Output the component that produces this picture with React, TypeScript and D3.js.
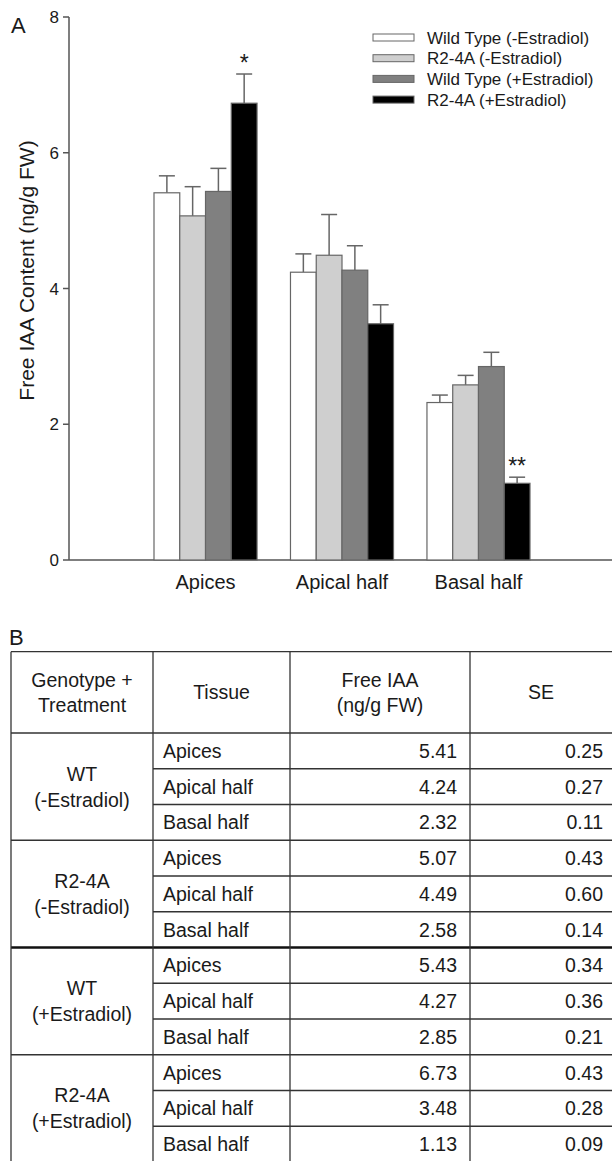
import React from "react";
import * as d3 from "d3";

const categories = ["Apices", "Apical half", "Basal half"];
const seriesNames = [
  "Wild Type (-Estradiol)",
  "R2-4A (-Estradiol)",
  "Wild Type (+Estradiol)",
  "R2-4A (+Estradiol)",
];
const seriesColors = ["#ffffff", "#cfcfcf", "#808080", "#000000"];
const wtMinus = [5.41, 4.24, 2.32];
const wtMinusSE = [0.25, 0.27, 0.11];
const r24Minus = [5.07, 4.49, 2.58];
const r24MinusSE = [0.43, 0.6, 0.14];
const wtPlus = [5.43, 4.27, 2.85];
const wtPlusSE = [0.34, 0.36, 0.21];
const r24Plus = [6.73, 3.48, 1.13];
const r24PlusSE = [0.43, 0.28, 0.09];
const significance = [
  { series: 3, cat: 0, label: "*" },
  { series: 3, cat: 2, label: "**" },
];
const yTicks = [0, 2, 4, 6, 8];

const genotypeLabels = [
  ["WT", "(-Estradiol)"],
  ["R2-4A", "(-Estradiol)"],
  ["WT", "(+Estradiol)"],
  ["R2-4A", "(+Estradiol)"],
];
const headerLabels = [["Genotype +", "Treatment"], ["Tissue"], ["Free IAA", "(ng/g FW)"], ["SE"]];

const FONT = "'Liberation Sans', Arial, Helvetica, sans-serif";
const TXT = "#1a1a1a";

export default function App() {
  const values = [wtMinus, r24Minus, wtPlus, r24Plus];
  const errors = [wtMinusSE, r24MinusSE, wtPlusSE, r24PlusSE];

  const y = d3.scaleLinear().domain([0, 8]).range([560, 17]);
  const x0 = d3.scaleBand<string>().domain(categories).range([154, 530]).paddingInner(0.245).paddingOuter(0);
  const x1 = d3.scaleBand<number>().domain(d3.range(4)).range([0, x0.bandwidth()]).padding(0);
  const axisX = 69;
  const axisColor = "#555";

  // table geometry
  const colX = [11, 153, 290, 470, 612];
  const tTop = 651.7;
  const headerBottom = 733;
  const rowH = 35.75;
  const tissueRows = d3.range(12);
  const rowY = d3.scaleLinear().domain([0, 1]).range([headerBottom, headerBottom + rowH]);
  const TF = 19.5;

  return (
    <svg width={612} height={1161} style={{ position: "absolute", left: 0, top: 0, background: "#fff" }} fontFamily={FONT}>
      <rect width={612} height={1161} fill="#fff" />
      {/* Panel A */}
      <text x={11} y={33} fontSize={22} fill={TXT}>A</text>
      {/* y axis */}
      <line x1={axisX} x2={axisX} y1={y(8)} y2={y(0)} stroke={axisColor} strokeWidth={1.5} />
      <line x1={axisX} x2={612} y1={y(0)} y2={y(0)} stroke={axisColor} strokeWidth={1.5} />
      {yTicks.map((t) => (
        <g key={t}>
          <line x1={axisX - 6} x2={axisX} y1={y(t)} y2={y(t)} stroke={axisColor} strokeWidth={1.5} />
          <text x={axisX - 10} y={y(t)} dy="0.36em" textAnchor="end" fontSize={17} fill={TXT}>
            {t}
          </text>
        </g>
      ))}
      <text
        transform={`translate(34, ${y(4) - 18}) rotate(-90)`}
        textAnchor="middle"
        fontSize={21}
        fill={TXT}
      >
        Free IAA Content (ng/g FW)
      </text>
      {/* bars */}
      {categories.map((c, ci) => (
        <g key={c}>
          {values.map((vals, si) => {
            const bx = (x0(c) as number) + (x1(si) as number);
            const bw = x1.bandwidth();
            const top = y(vals[ci]);
            const errTop = y(vals[ci] + errors[si][ci]);
            const cx = bx + bw / 2;
            return (
              <g key={si}>
                <line x1={cx} x2={cx} y1={top} y2={errTop} stroke="#666" strokeWidth={1.5} />
                <line x1={cx - 8} x2={cx + 8} y1={errTop} y2={errTop} stroke="#666" strokeWidth={1.5} />
                <rect x={bx} y={top} width={bw} height={y(0) - top} fill={seriesColors[si]} stroke="#666" strokeWidth={1.2} />
              </g>
            );
          })}
          <text x={(x0(c) as number) + x0.bandwidth() / 2} y={589} textAnchor="middle" fontSize={20} fill={TXT}>
            {c}
          </text>
        </g>
      ))}
      {significance.map((s, i) => {
        const c = categories[s.cat];
        const cx = (x0(c) as number) + (x1(s.series) as number) + x1.bandwidth() / 2;
        const v = values[s.series][s.cat] + errors[s.series][s.cat];
        return (
          <text key={i} x={cx} y={y(v) - 3} textAnchor="middle" fontSize={23} fill={TXT}>
            {s.label}
          </text>
        );
      })}
      {/* legend */}
      {seriesNames.map((n, i) => (
        <g key={n}>
          <rect x={373} y={34 + i * 20.7} width={41} height={7} fill={seriesColors[i]} stroke="#666" strokeWidth={1} />
          <text x={427} y={37.5 + i * 20.7} dy="0.36em" fontSize={17} fill={TXT}>
            {n}
          </text>
        </g>
      ))}

      {/* Panel B */}
      <text x={9} y={645} fontSize={22} fill={TXT}>B</text>
      <line x1={colX[0]} x2={612} y1={tTop} y2={tTop} stroke="#333" strokeWidth={1.3} />
      <line x1={colX[0]} x2={612} y1={headerBottom} y2={headerBottom} stroke="#333" strokeWidth={1.3} />
      {tissueRows.map((r) => {
        if (r === 0) return null;
        const isGroup = r % 3 === 0;
        return (
          <line
            key={r}
            x1={isGroup ? colX[0] : colX[1]}
            x2={612}
            y1={rowY(r)}
            y2={rowY(r)}
            stroke={r === 6 ? "#111" : "#333"}
            strokeWidth={r === 6 ? 2.6 : 1.3}
          />
        );
      })}
      {colX.slice(0, 4).map((cx, i) => (
        <line key={i} x1={cx} x2={cx} y1={tTop} y2={1161} stroke="#333" strokeWidth={1.3} />
      ))}
      {headerLabels.map((lines, i) => {
        const cx = (colX[i] + colX[i + 1]) / 2;
        const cy = (tTop + headerBottom) / 2;
        return (
          <text key={i} textAnchor="middle" fontSize={TF} fill={TXT}>
            {lines.map((l, li) => (
              <tspan key={li} x={cx} y={cy + (li - (lines.length - 1) / 2) * 25} dy="0.36em">
                {l}
              </tspan>
            ))}
          </text>
        );
      })}
      {genotypeLabels.map((lines, g) => {
        const cy = rowY(g * 3 + 1.5);
        return (
          <text key={g} textAnchor="middle" fontSize={TF} fill={TXT}>
            {lines.map((l, li) => (
              <tspan key={li} x={(colX[0] + colX[1]) / 2} y={cy + (li - 0.5) * 26} dy="0.36em">
                {l}
              </tspan>
            ))}
          </text>
        );
      })}
      {tissueRows.map((r) => {
        const g = Math.floor(r / 3);
        const ci = r % 3;
        const cy = rowY(r + 0.5);
        return (
          <g key={r}>
            <text x={163} y={cy} dy="0.36em" fontSize={TF} fill={TXT}>
              {categories[ci]}
            </text>
            <text x={457} y={cy} dy="0.36em" textAnchor="end" fontSize={TF} fill={TXT}>
              {values[g][ci].toFixed(2)}
            </text>
            <text x={603} y={cy} dy="0.36em" textAnchor="end" fontSize={TF} fill={TXT}>
              {errors[g][ci].toFixed(2)}
            </text>
          </g>
        );
      })}
    </svg>
  );
}
